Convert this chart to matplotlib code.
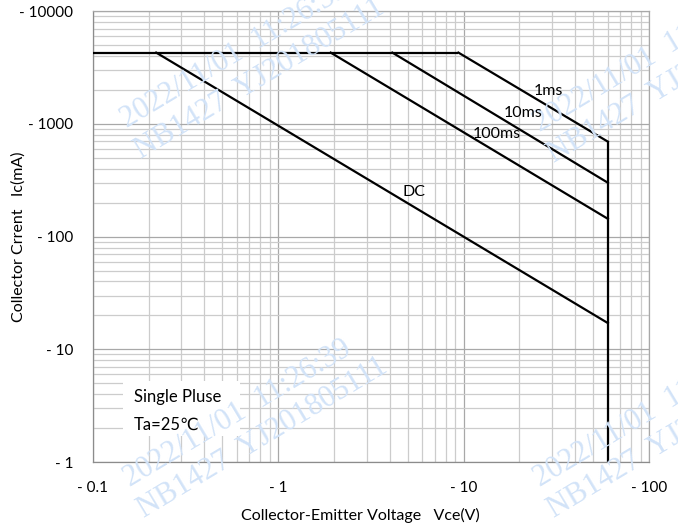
import matplotlib
matplotlib.use("Agg")
import matplotlib.pyplot as plt
from matplotlib.patches import Rectangle

plt.rcParams['font.family'] = ['Lato', 'DejaVu Sans']

# safe operating area
v_min = 0.1
v_max = 60.0
i_max = 4300.0          # mA
curve_names = ["DC", "100ms", "10ms", "1ms"]
v_knee = [0.22, 1.92, 4.13, 9.38]     # V where the curve leaves i_max
i_end = [17.1, 144.0, 301.0, 697.0]   # mA at v_max

x_ticks = [0.1, 1, 10, 100]
x_ticklabels = ["- 0.1", "- 1", "- 10", "- 100"]
y_ticks = [1, 10, 100, 1000, 10000]
y_ticklabels = ["- 1", "- 10", "- 100", "- 1000", "- 10000"]

W, H = 678, 527
fig = plt.figure(figsize=(W / 100, H / 100), dpi=100)
ax = fig.add_axes([92.7 / W, 1 - 462 / H, (649 - 92.7) / W, (462 - 11.3) / H])
ax.set_xscale("log")
ax.set_yscale("log")
ax.set_xlim(0.1, 100)
ax.set_ylim(1, 10000)

ax.grid(which="major", color="#a8a8a8", lw=0.9, zorder=0)
ax.grid(which="minor", color="#cccccc", lw=0.9, zorder=0)
ax.set_axisbelow(True)
for s in ax.spines.values():
    s.set_color("#a8a8a8")
    s.set_linewidth(0.9)
ax.spines["bottom"].set_color("#8c8c8c")
ax.spines["left"].set_color("#8c8c8c")

ax.set_xticks(x_ticks)
ax.set_xticklabels(x_ticklabels)
ax.set_yticks(y_ticks)
ax.set_yticklabels(y_ticklabels)
ax.tick_params(which="both", length=0)
ax.tick_params(axis="x", pad=14, labelsize=11)
ax.tick_params(axis="y", pad=14, labelsize=11)
ax.xaxis.set_minor_formatter(matplotlib.ticker.NullFormatter())
ax.yaxis.set_minor_formatter(matplotlib.ticker.NullFormatter())

lw = 1.6
# current limit
ax.plot([v_min, max(v_knee)], [i_max, i_max], color="black", lw=lw, zorder=5,
        solid_capstyle="butt")
for vk, ie in zip(v_knee, i_end):
    ax.plot([vk, v_max], [i_max, ie], color="black", lw=lw, zorder=5)
# voltage limit
ax.plot([v_max, v_max], [max(i_end), 1], color="black", lw=lw, zorder=5)

label_pos = {"1ms": (548, 91), "10ms": (523, 113), "100ms": (497, 134), "DC": (414, 192)}
for name in curve_names:
    px, py = label_pos[name]
    fig.text(px / W, 1 - py / H, name, ha="center", va="center", fontsize=11.5, zorder=6)

# condition box
fig.patches.append(Rectangle((123 / W, 1 - 436 / H), 117 / W, 55 / H,
                             transform=fig.transFigure, facecolor="white",
                             edgecolor="none", zorder=3))
fig.text(134 / W, 1 - 397 / H, "Single Pluse", ha="left", va="center", fontsize=12, zorder=6)
fig.text(134 / W, 1 - 425 / H, "Ta=25℃", ha="left", va="center", fontsize=12, zorder=6)

fig.text(360 / W, 1 - 515 / H, "Collector-Emitter Voltage   Vce(V)", ha="center",
         va="center", fontsize=11.5)
fig.text(18.5 / W, 1 - 237 / H, "Collector Crrent   Ic(mA)", ha="center",
         va="center", rotation=90, fontsize=11.5)

# watermarks
wm1 = "2022/11/01  11:26:39"
wm2 = "NB1427  YJ201805111"
for (px, py) in [(127, 128), (540, 132), (130, 487), (540, 487)]:
    fig.text(px / W, 1 - py / H, wm1, rotation=31, rotation_mode="anchor",
             ha="left", va="baseline", fontsize=22, color="#d2e3f8",
             family="Liberation Serif", zorder=4)
    fig.text((px + 14) / W, 1 - (py + 31) / H, wm2, rotation=31, rotation_mode="anchor",
             ha="left", va="baseline", fontsize=22, color="#d2e3f8",
             family="Liberation Serif", zorder=4)

fig.savefig("out.png", dpi=100)
